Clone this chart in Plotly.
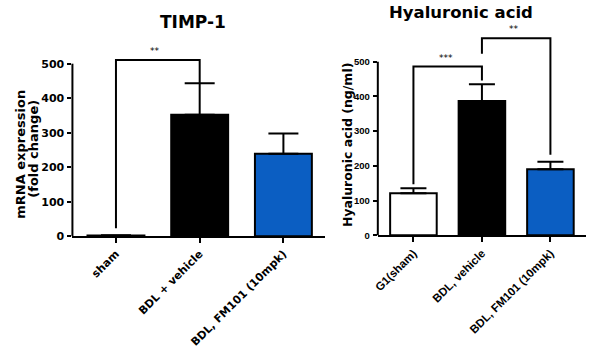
import plotly.graph_objects as go

# ---- data ----
timp_cats = ["sham", "BDL + vehicle", "BDL, FM101 (10mpk)"]
timp_vals = [2, 352, 239]
timp_err = [1, 91, 59]
ha_cats = ["G1(sham)", "BDL, vehicle", "BDL, FM101 (10mpk)"]
ha_vals = [121, 387, 190]
ha_err = [14, 48, 22]
bar_colors = ["#FFFFFF", "#000000", "#0B5EC2"]
y_ticks = [0, 100, 200, 300, 400, 500]

# significance brackets: (x_left, x_right, y_left_bottom, y_right_bottom, y_top, label)
timp_brackets = [(0, 1, 23, 443, 511, "**")]
ha_brackets = [(0, 1, 147, 446, 486, "***"), (1, 2, 523, 232, 568, "**")]

W, H = 590, 350
WIDE = "DejaVu Sans, Verdana, sans-serif"
ARIAL = "Liberation Sans, Arial, sans-serif"

fig = go.Figure()
for cats, vals, err, xa, ya, ew in [
    (timp_cats, timp_vals, timp_err, "x", "y", 15),
    (ha_cats, ha_vals, ha_err, "x2", "y2", 13),
]:
    fig.add_trace(go.Bar(
        x=cats, y=vals, xaxis=xa, yaxis=ya, width=0.68,
        marker=dict(color=bar_colors, line=dict(color="black", width=2)),
        error_y=dict(type="data", array=err, arrayminus=[0] * len(err),
                     symmetric=False, color="black", thickness=2, width=ew),
        showlegend=False, hoverinfo="skip",
    ))

left_top = 599.4
right_top = 593.2
fig.update_layout(
    width=W, height=H, margin=dict(l=0, r=0, t=0, b=0),
    plot_bgcolor="white", paper_bgcolor="white",
    xaxis=dict(domain=[68 / W, 323 / W], range=[-0.52, 2.5], showline=True,
               linecolor="black", linewidth=2, ticks="outside", ticklen=5,
               tickwidth=2, tickcolor="black", tickangle=-45,
               tickfont=dict(family=WIDE, size=11, color="black", weight="bold"),
               showgrid=False, zeroline=False, anchor="y"),
    yaxis=dict(domain=[(H - 241) / H, (H - 30) / H], range=[0, left_top],
               tickvals=y_ticks, showline=False, ticks="outside", ticklen=4,
               tickwidth=2, tickcolor="black", showgrid=False, zeroline=False,
               ticklabelstandoff=1,
               tickfont=dict(family=WIDE, size=11, color="black", weight="bold"),
               anchor="x"),
    xaxis2=dict(domain=[376 / W, 586 / W], range=[-0.52, 2.52], showline=True,
                linecolor="black", linewidth=2, ticks="outside", ticklen=5,
                tickwidth=2, tickcolor="black", tickangle=-45,
                tickfont=dict(family=ARIAL, size=11.5, color="black", weight="bold"),
                showgrid=False, zeroline=False, anchor="y2"),
    yaxis2=dict(domain=[(H - 240) / H, (H - 30) / H], range=[0, right_top],
                tickvals=y_ticks, showline=False, ticks="outside", ticklen=4,
                tickwidth=2, tickcolor="black", showgrid=False, zeroline=False,
                ticklabelstandoff=1,
                tickfont=dict(family=ARIAL, size=9.5, color="black", weight="bold"),
                anchor="x2"),
)

# y-axis lines stopping at 500
fig.add_shape(type="line", xref="x domain", yref="y domain", x0=0, x1=0,
              y0=0, y1=500 / left_top, line=dict(color="black", width=2))
fig.add_shape(type="line", xref="x2 domain", yref="y2 domain", x0=0, x1=0,
              y0=0, y1=500 / right_top, line=dict(color="black", width=2))

# brackets
for brs, xr, yr in [(timp_brackets, "x", "y"), (ha_brackets, "x2", "y2")]:
    for xl, xrr, yl, yrb, yt, lab in brs:
        fig.add_shape(type="path", xref=xr, yref=yr,
                      path=f"M {xl} {yl} L {xl} {yt} L {xrr} {yt} L {xrr} {yrb}",
                      line=dict(color="black", width=2))
        fig.add_annotation(x=(xl + xrr) / 2 - 0.03, y=yt, xref=xr, yref=yr,
                           text=lab, showarrow=False, xanchor="center",
                           yanchor="bottom", yshift=2,
                           font=dict(family=WIDE, size=9, color="black"))

# titles
fig.add_annotation(x=190 / W, y=1 - 22 / H, xref="paper", yref="paper",
                   text="<b>TIMP-1</b>", showarrow=False,
                   xanchor="center", yanchor="middle",
                   font=dict(family=WIDE, size=17, color="black"))
fig.add_annotation(x=460 / W, y=1 - 13 / H, xref="paper", yref="paper",
                   text="<b>Hyaluronic acid</b>", showarrow=False,
                   xanchor="center", yanchor="middle",
                   font=dict(family=WIDE, size=16.5, color="black"))
# y titles
fig.add_annotation(x=16 / W, y=1 - 157 / H, xref="paper", yref="paper",
                   text="<b>mRNA expression</b>", showarrow=False,
                   xanchor="center", yanchor="middle",
                   textangle=-90, font=dict(family=WIDE, size=13, color="black"))
fig.add_annotation(x=29 / W, y=1 - 152 / H, xref="paper", yref="paper",
                   text="<b>(fold change)</b>", showarrow=False,
                   xanchor="center", yanchor="middle",
                   textangle=-90, font=dict(family=WIDE, size=13, color="black"))
fig.add_annotation(x=345.5 / W, y=1 - 147.5 / H, xref="paper", yref="paper",
                   text="<b>Hyaluronic acid (ng/ml)</b>", showarrow=False,
                   xanchor="center", yanchor="middle",
                   textangle=-90, font=dict(family=WIDE, size=12.5, color="black"))

fig.write_html("out.html")
